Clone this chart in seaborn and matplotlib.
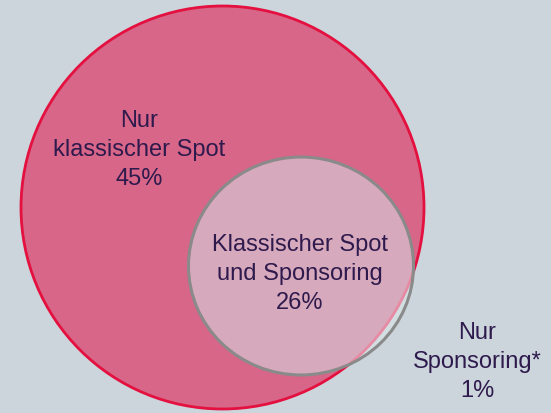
import matplotlib
matplotlib.use("Agg")
import matplotlib.pyplot as plt
from matplotlib.patches import Ellipse
import seaborn as sns

# Data
region_labels = ["Nur\nklassischer Spot", "Klassischer Spot\nund Sponsoring", "Nur\nSponsoring*"]
region_values = [45, 26, 1]

sns.set_theme(style="white")
plt.rcParams['font.family'] = ['Liberation Sans', 'DejaVu Sans']

W, H = 551, 413
bg = "#CCD5DC"
fig = plt.figure(figsize=(W / 100, H / 100), dpi=100, facecolor=bg)
ax = fig.add_axes([0, 0, 1, 1])
ax.set_facecolor(bg)
ax.set_xlim(0, W)
ax.set_ylim(H, 0)
ax.set_aspect("equal")
ax.axis("off")

# Big circle (Klassischer Spot)
big = Ellipse((222.5, 207.5), 403, 403, facecolor="#D76688", edgecolor="none", zorder=1)
ax.add_patch(big)
big_edge = Ellipse((222.5, 207.5), 403, 403, facecolor="none", edgecolor="#E4103F", lw=2.0, zorder=2)
ax.add_patch(big_edge)

# Small circle (Sponsoring)
sc, sw, sh = (301, 266), 225, 218
small_out = Ellipse(sc, sw, sh, facecolor="#D2DEE1", edgecolor="none", zorder=3)
ax.add_patch(small_out)
small_in = Ellipse(sc, sw, sh, facecolor="#D7A9BD", edgecolor="none", zorder=4)
ax.add_patch(small_in)
small_in.set_clip_path(big)
# faint big-circle edge seen through the small circle
ghost = Ellipse((222.5, 207.5), 403, 403, facecolor="none", edgecolor="#E78AA3", lw=2.0, zorder=5)
ax.add_patch(ghost)
ghost.set_clip_path(small_out)
small_edge = Ellipse(sc, sw, sh, facecolor="none", edgecolor="#8A8A8A", lw=2.2, zorder=6)
ax.add_patch(small_edge)

txt_color = "#2E1A4C"
positions = [(139, 150), (300, 274), (477, 362)]
for (x, y), lab, v in zip(positions, region_labels, region_values):
    ax.text(x, y, f"{lab}\n{v}%", ha="center", va="center", fontsize=17,
            color=txt_color, linespacing=1.42, zorder=10)

fig.savefig("out.png", dpi=100, facecolor=bg)
